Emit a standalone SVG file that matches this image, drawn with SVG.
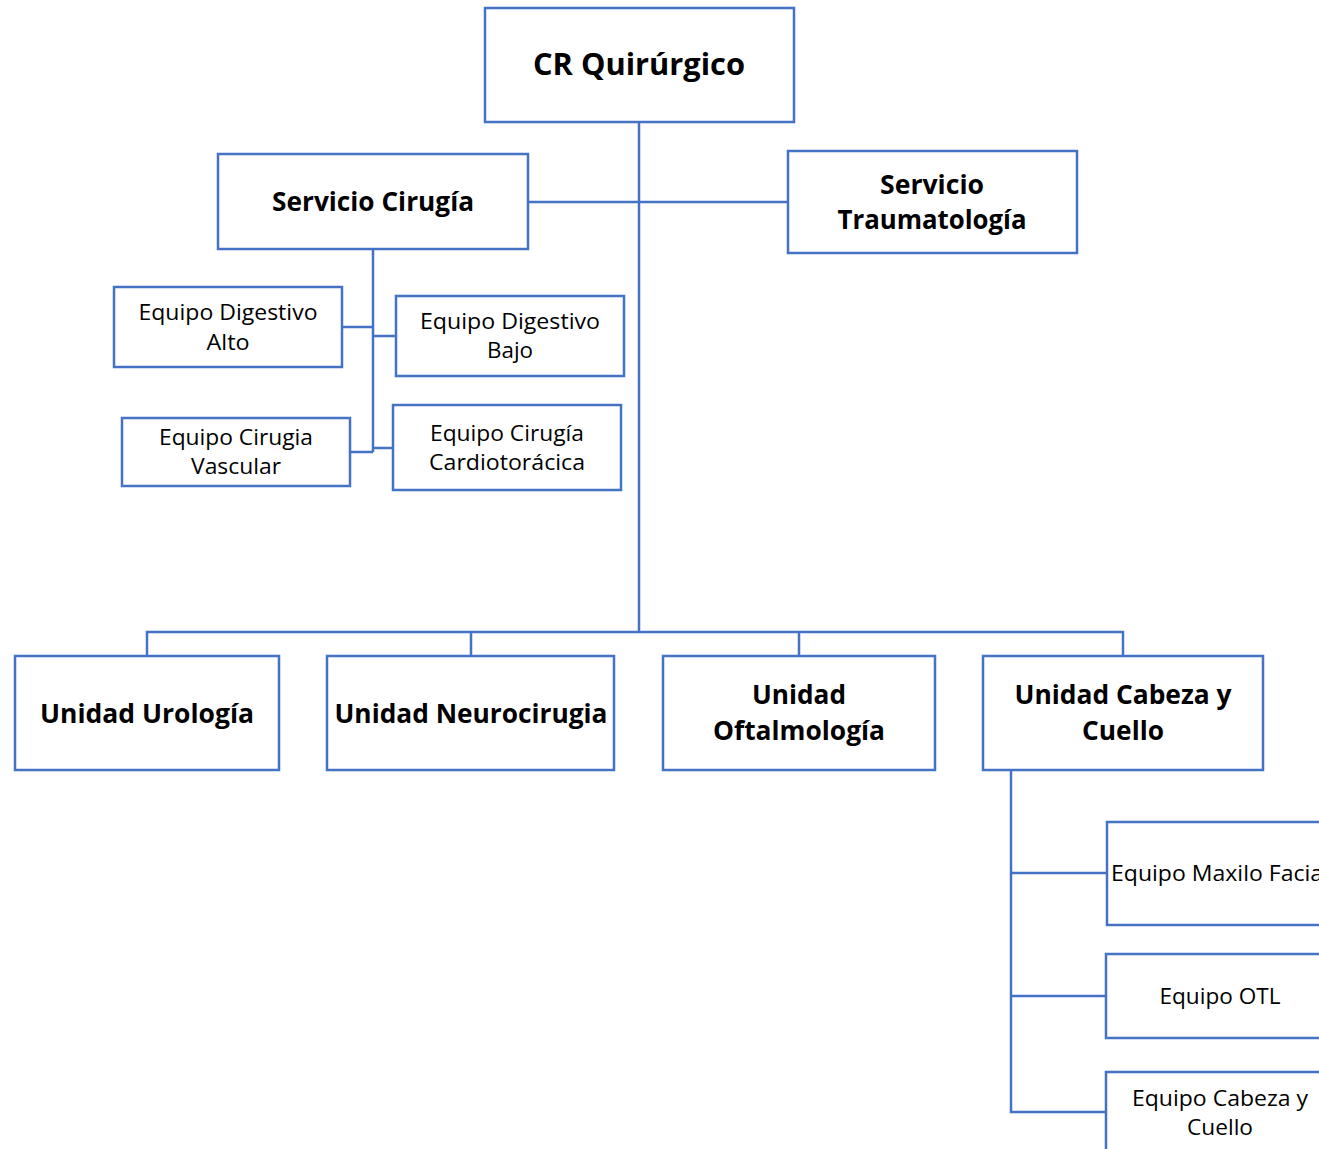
<svg xmlns="http://www.w3.org/2000/svg" width="1319" height="1149" viewBox="0 0 1319 1149">
<style>
.box{fill:#fff;stroke:#4472C4;stroke-width:2.5}
.ln{fill:none;stroke:#4472C4;stroke-width:2.5}
.b{font-family:"Open Sans","Liberation Sans",sans-serif;font-weight:bold;fill:#000;text-anchor:middle}
.r{font-family:"Open Sans","Liberation Sans",sans-serif;font-size:21px;fill:#000;text-anchor:middle}
</style>
<rect width="1319" height="1149" fill="#fff"/>
<g id="connectors">
<path class="ln" d="M639 122V632M528 202H788M373 249V452M342 327H373M373 336H396M350 452H373M373 448H393M147 656V632H1123V656M471 632V656M799 632V656M1011 770V1112H1106M1011 873H1107M1011 996H1106"/>
</g>
<g id="cr"><rect class="box" x="485" y="8" width="309" height="114"/><text class="b" x="639" y="75" font-size="31" textLength="212" lengthAdjust="spacingAndGlyphs">CR Quirúrgico</text></g>
<g id="cirugia"><rect class="box" x="218" y="154" width="310" height="95"/><text class="b" x="373" y="211" font-size="27" textLength="202" lengthAdjust="spacingAndGlyphs">Servicio Cirugía</text></g>
<g id="trauma"><rect class="box" x="788" y="151" width="289" height="102"/><text class="b" x="932" y="194" font-size="27" textLength="104" lengthAdjust="spacingAndGlyphs">Servicio</text><text class="b" x="932" y="229" font-size="27" textLength="189" lengthAdjust="spacingAndGlyphs">Traumatología</text></g>
<g id="dig-alto"><rect class="box" x="114" y="287" width="228" height="80"/><text class="r" x="228" y="320" textLength="179" lengthAdjust="spacingAndGlyphs">Equipo Digestivo</text><text class="r" x="228" y="350" textLength="43" lengthAdjust="spacingAndGlyphs">Alto</text></g>
<g id="dig-bajo"><rect class="box" x="396" y="296" width="228" height="80"/><text class="r" x="510" y="329" textLength="180" lengthAdjust="spacingAndGlyphs">Equipo Digestivo</text><text class="r" x="510" y="358" textLength="46" lengthAdjust="spacingAndGlyphs">Bajo</text></g>
<g id="vascular"><rect class="box" x="122" y="418" width="228" height="68"/><text class="r" x="236" y="445" textLength="154" lengthAdjust="spacingAndGlyphs">Equipo Cirugia</text><text class="r" x="236" y="474" textLength="90" lengthAdjust="spacingAndGlyphs">Vascular</text></g>
<g id="cardio"><rect class="box" x="393" y="405" width="228" height="85"/><text class="r" x="507" y="441" textLength="154" lengthAdjust="spacingAndGlyphs">Equipo Cirugía</text><text class="r" x="507" y="470" textLength="156" lengthAdjust="spacingAndGlyphs">Cardiotorácica</text></g>
<g id="urologia"><rect class="box" x="15" y="656" width="264" height="114"/><text class="b" x="147" y="723" font-size="27" textLength="214" lengthAdjust="spacingAndGlyphs">Unidad Urología</text></g>
<g id="neuro"><rect class="box" x="327" y="656" width="287" height="114"/><text class="b" x="471" y="723" font-size="27" textLength="273" lengthAdjust="spacingAndGlyphs">Unidad Neurocirugia</text></g>
<g id="oftalmo"><rect class="box" x="663" y="656" width="272" height="114"/><text class="b" x="799" y="704" font-size="27" textLength="94" lengthAdjust="spacingAndGlyphs">Unidad</text><text class="b" x="799" y="740" font-size="27" textLength="172" lengthAdjust="spacingAndGlyphs">Oftalmología</text></g>
<g id="cabeza"><rect class="box" x="983" y="656" width="280" height="114"/><text class="b" x="1123" y="704" font-size="27" textLength="217" lengthAdjust="spacingAndGlyphs">Unidad Cabeza y</text><text class="b" x="1123" y="740" font-size="27" textLength="82" lengthAdjust="spacingAndGlyphs">Cuello</text></g>
<g id="maxilo"><rect class="box" x="1107" y="822" width="230" height="103"/><text class="r" x="1220" y="881" textLength="218" lengthAdjust="spacingAndGlyphs">Equipo Maxilo Facial</text></g>
<g id="otl"><rect class="box" x="1106" y="954" width="230" height="84"/><text class="r" x="1220" y="1004" textLength="121" lengthAdjust="spacingAndGlyphs">Equipo OTL</text></g>
<g id="cabeza-equipo"><rect class="box" x="1106" y="1072" width="230" height="100"/><text class="r" x="1220" y="1106" textLength="176" lengthAdjust="spacingAndGlyphs">Equipo Cabeza y</text><text class="r" x="1220" y="1135" textLength="66" lengthAdjust="spacingAndGlyphs">Cuello</text></g>
</svg>
